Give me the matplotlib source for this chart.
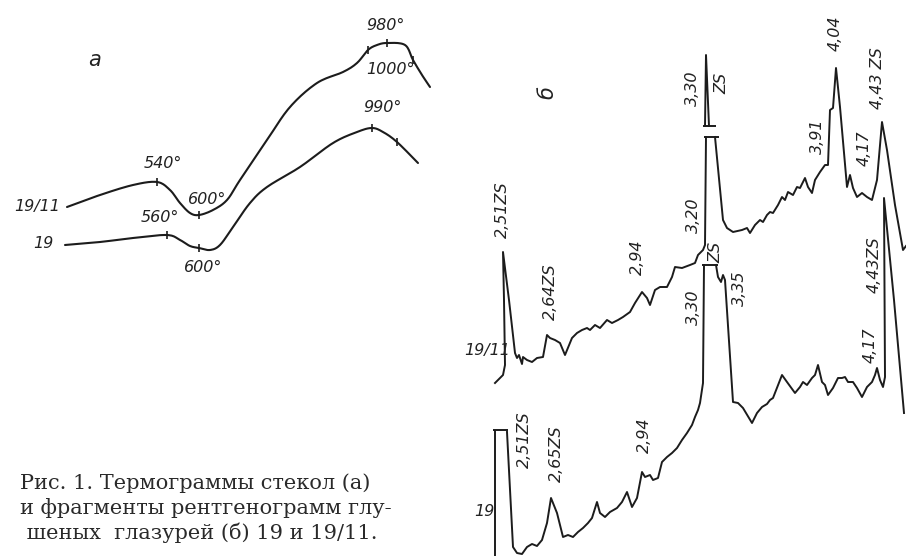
import numpy as np
import matplotlib
matplotlib.use("Agg")
import matplotlib.pyplot as plt

# --- термограммы (а): точки кривых ---
dta_1911_x = [67, 100, 133, 157, 170, 180, 190, 199, 213, 227, 240, 267, 290, 317, 343, 357, 368, 377, 387, 405, 413, 422, 430]
dta_1911_y = [207, 195, 185, 182, 190, 203, 213, 215, 210, 200, 180, 140, 107, 83, 72, 63, 50, 45, 43, 45, 60, 75, 87]
dta_19_x = [65, 100, 133, 167, 180, 190, 199, 210, 220, 233, 250, 267, 300, 333, 357, 372, 383, 397, 418]
dta_19_y = [245, 242, 238, 235, 240, 246, 248, 250, 245, 227, 203, 187, 167, 143, 132, 128, 132, 142, 163]
ticks_1911 = [157, 199, 368, 387, 413]
ticks_19 = [167, 199, 372, 397]

# --- рентгенограммы (б): ломаные, nan = разрыв пика ---
xrd_1911_x = [495, 503, 505, 504, 503, 509, 515, 517, 519, 522, 523, 527, 532, 537, 543, 547, 550, 555, 560, 565,
              572, 577, 582, 587, 590, 595, 600, 607, 612, 618, 623, 630, 635, 642, 647, 650, 655, 660, 667, 672,
              675, 682, 690, 695, 698, 700, 703, 705, 706, np.nan,
              705, 706, 709, np.nan,
              715, 723, 727, 733, 742, 747, 750, 755, 760, 763, 767, 770, 773, 778, 782, 785, 788, 793, 797, 800,
              805, 808, 812, 815, 820, 825, 828, 830, 833, 836, 840, 847, 850, 853, 857, 862, 867, 872, 877, 882,
              887, 895, 903, 906]
xrd_1911_y = [383, 375, 365, 300, 252, 300, 353, 358, 355, 364, 357, 360, 362, 358, 357, 335, 338, 340, 343, 355,
              338, 333, 330, 328, 330, 325, 328, 320, 323, 320, 317, 312, 303, 292, 298, 305, 290, 287, 287, 277,
              267, 268, 265, 263, 255, 253, 250, 245, 137, np.nan,
              126, 55, 126, np.nan,
              137, 220, 228, 232, 230, 228, 233, 225, 220, 222, 215, 212, 213, 205, 197, 200, 192, 195, 187, 188,
              178, 187, 193, 180, 172, 165, 165, 110, 108, 68, 107, 187, 175, 188, 197, 193, 197, 200, 180, 122,
              150, 205, 250, 246]
xrd_19_x = [495, 495, np.nan,
            507, 513, 517, 522, 527, 532, 537, 542, 547, 551, 557, 563, 568, 573, 578, 583, 588, 592, 597, 600,
            605, 610, 617, 622, 627, 632, 637, 642, 645, 650, 653, 658, 662, 667, 672, 677, 682, 687, 692, 695,
            698, 700, 703, 704, np.nan,
            716, 718, 721, 723, 725, 733, 738, 743, 752, 757, 762, 767, 770, 773, 782, 787, 795, 800, 803, 807,
            812, 815, 818, 822, 825, 828, 833, 838, 842, 845, 848, 853, 857, 862, 867, 872, 875, 877, 880, 883,
            885, 884, 894, 904]
xrd_19_y = [556, 431, np.nan,
            432, 547, 553, 554, 547, 544, 546, 540, 523, 498, 513, 537, 535, 537, 532, 528, 523, 518, 502, 513,
            517, 512, 508, 502, 492, 507, 498, 472, 477, 475, 480, 478, 462, 457, 453, 448, 440, 433, 425, 417,
            410, 403, 383, 265, np.nan,
            265, 277, 282, 275, 280, 402, 403, 408, 423, 413, 407, 404, 400, 398, 375, 382, 393, 387, 382, 385,
            378, 375, 365, 382, 385, 395, 388, 378, 378, 377, 382, 382, 388, 397, 387, 382, 375, 368, 380, 387,
            377, 198, 300, 413]
# обрывы пиков (горизонтальные засечки): y, x_от, x_до
caps_y = [126, 137, 430, 265]
caps_x0 = [703, 704, 493, 702]
caps_x1 = [716, 719, 508, 718]

# подписи
panel_labels = ["а", "б"]
panel_pos = [(95, 60), (547, 93)]
panel_rot = [0, 90]
left_labels = ["19/11", "19", "540°", "600°", "560°", "600°", "980°", "1000°", "990°"]
left_pos = [(37, 207), (43, 243), (163, 163), (207, 200), (160, 218), (203, 268), (385, 25), (390, 70), (382, 108)]
peak_labels = ["3,30", "ZS", "4,04", "4,43 ZS", "3,91", "4,17", "3,20", "2,51ZS", "2,94", "ZS", "2,64ZS",
               "3,30", "3,35", "4,43ZS", "4,17", "2,51ZS", "2,65ZS", "2,94"]
peak_pos = [(692, 88), (722, 83), (835, 33), (878, 78), (817, 136), (864, 148), (693, 215), (502, 210),
            (637, 257), (716, 252), (550, 292), (693, 307), (739, 288), (874, 265), (870, 345), (524, 440),
            (556, 454), (644, 435)]
sample_labels = ["19/11", "19"]
sample_pos = [(487, 350), (484, 512)]
caption = ["Рис. 1. Термограммы стекол (а)",
           "и фрагменты рентгенограмм глу-",
           " шеных  глазурей (б) 19 и 19/11."]


def smooth(x, y, n=12):
    # Catmull-Rom через опорные точки
    p = np.column_stack([x, y]).astype(float)
    p = np.vstack([p[0], p, p[-1]])
    out = []
    t = np.linspace(0, 1, n, endpoint=False)[:, None]
    for i in range(1, len(p) - 2):
        p0, p1, p2, p3 = p[i - 1], p[i], p[i + 1], p[i + 2]
        seg = 0.5 * ((2 * p1) + (-p0 + p2) * t + (2 * p0 - 5 * p1 + 4 * p2 - p3) * t ** 2
                     + (-p0 + 3 * p1 - 3 * p2 + p3) * t ** 3)
        out.append(seg)
    out.append(p[-2][None, :])
    out = np.vstack(out)
    return out[:, 0], out[:, 1]


ink = "#1c1c1c"
fig = plt.figure(figsize=(9.06, 5.56), dpi=100)
ax = fig.add_axes([0, 0, 1, 1])
ax.set_xlim(0, 906)
ax.set_ylim(556, 0)
ax.axis("off")

for xs, ys, tk in [(dta_1911_x, dta_1911_y, ticks_1911), (dta_19_x, dta_19_y, ticks_19)]:
    sx, sy = smooth(xs, ys)
    ax.plot(sx, sy, color=ink, lw=1.5, solid_capstyle="round")
    ax.plot(tk, np.interp(tk, xs, ys), "|", color=ink, ms=6, mew=1.2)

ax.plot(xrd_1911_x, xrd_1911_y, color=ink, lw=1.4, solid_joinstyle="round")
ax.plot(xrd_19_x, xrd_19_y, color=ink, lw=1.4, solid_joinstyle="round")
ax.hlines(caps_y, caps_x0, caps_x1, color=ink, lw=1.4)

draft = dict(family="DejaVu Sans", style="italic", size=11.5, color="#222222", ha="center", va="center")
for s, (x, y), r in zip(panel_labels, panel_pos, panel_rot):
    ax.text(x, y, s, rotation=r, **{**draft, "size": 15})
for s, (x, y) in zip(left_labels, left_pos):
    ax.text(x, y, s, **draft)
for s, (x, y) in zip(peak_labels, peak_pos):
    ax.text(x, y, s, rotation=90, **draft)
for s, (x, y) in zip(sample_labels, sample_pos):
    ax.text(x, y, s, **draft)

for i, line in enumerate(caption):
    ax.text(20, 483 + 25 * i, line, family="DejaVu Serif", size=15, color="#2a2a2a", ha="left", va="center")

fig.savefig("out.png", dpi=100)
